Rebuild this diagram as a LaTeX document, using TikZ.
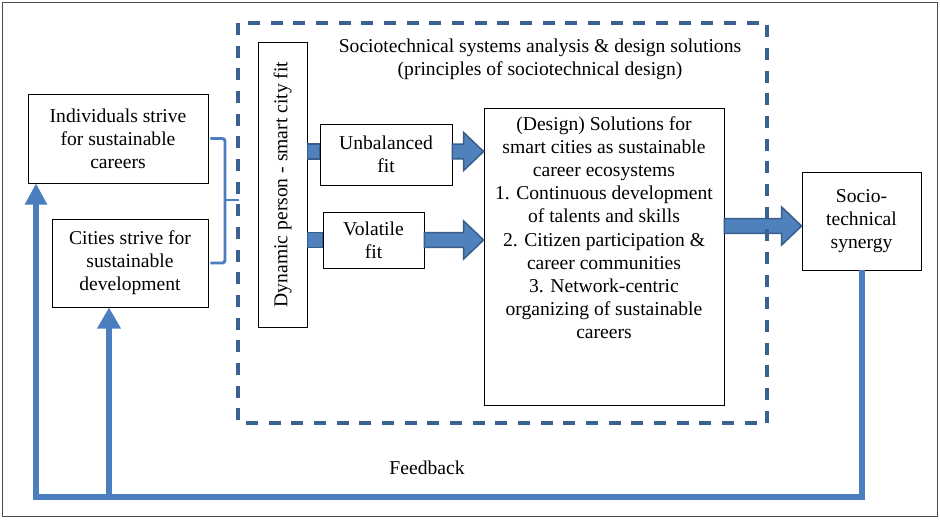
\documentclass[tikz,border=0pt]{standalone}
\usepackage{fontspec}
\setmainfont{Liberation Serif}
\usetikzlibrary{arrows.meta,calc}

\definecolor{arrowfill}{HTML}{4F81BD}
\definecolor{arrowedge}{HTML}{385D8A}
\definecolor{loopblue}{HTML}{4A7EBF}
\definecolor{dashblue}{HTML}{3A6190}

\newlength{\px}
\setlength{\px}{0.75pt}
% block arrow: y taken from #1, x from #1 to #2
\newcommand{\fatarrow}[2]{%
  \filldraw[fatarrow] let \p1=#1, \p2=#2 in
    (\x1,\y1+5.6pt) -- (\x2-15pt,\y1+5.6pt) -- (\x2-15pt,\y1+14.3pt) -- (\x2,\y1)
    -- (\x2-15pt,\y1-14.3pt) -- (\x2-15pt,\y1-5.6pt) -- (\x1,\y1-5.6pt) -- cycle;}

\tikzset{
  box/.style={draw, fill=white, line width=0.6pt, align=center, inner sep=2pt},
  fatarrow/.style={draw=arrowedge, fill=arrowfill, line width=1.1pt},
  feedback/.style={draw=loopblue, line width=4.5pt},
  bracket/.style={draw=loopblue, line width=2.2pt, rounded corners=2pt},
  dashbox/.style={draw=dashblue, line width=2.3pt, dash pattern=on 9pt off 8pt},
}

\begin{document}
\begin{tikzpicture}[x=\px, y=-\px, font=\fontsize{14.7}{17.3}\selectfont]
    \useasboundingbox (0,0) rectangle (940,519);
    \draw[black!70, line width=0.6pt] (2.5,2.5) rectangle (937.5,516.5);

    % Left boxes
    \node[box, minimum width=180\px, minimum height=89\px] (indiv) at (118,138.5)
        {Individuals strive\\for sustainable\\careers};
    \node[box, minimum width=156\px, minimum height=88\px] (cities) at (130,263)
        {Cities strive for\\sustainable\\development};

    % Fit boxes
    \node[box, rotate=90, minimum width=285\px, minimum height=49\px] (dynamic) at (282.5,184.5)
        {Dynamic person - smart city fit};
    \node[box, minimum width=132\px, minimum height=61\px] (unbal) at (386,154.5)
        {Unbalanced\\fit};
    \node[box, minimum width=101\px, minimum height=56\px] (volatile) at (373.5,240)
        {Volatile\\fit};

    % Design solutions
    \node[box, minimum width=240\px, minimum height=297\px] (design) at (604,256.5) {};
    \node[anchor=north, align=center, inner sep=0pt] (designtxt) at ([yshift=-9\px]design.north)
        {(Design) Solutions for\\smart cities as sustainable\\career ecosystems\\
         1. Continuous development\\of talents and skills\\
         2. Citizen participation \&\\career communities\\
         3. Network-centric\\organizing of sustainable\\careers};

    \node[box, minimum width=119\px, minimum height=98\px] (synergy) at (861.5,221)
        {Socio-\\technical\\synergy};

    % Block arrows
    \coordinate (ubar) at ([yshift=3\px]unbal.west);
    \coordinate (vbar) at (volatile.west);
    \draw[fatarrow] ($(dynamic.south |- ubar)+(0,5.6pt)$) rectangle ($(ubar)+(0,-5.6pt)$);
    \draw[fatarrow] ($(dynamic.south |- vbar)+(0,5.6pt)$) rectangle ($(vbar)+(0,-5.6pt)$);
    \fatarrow{([yshift=3\px]unbal.east)}{(design.west)}
    \fatarrow{(volatile.east)}{(design.west)}
    \fatarrow{([yshift=-5\px]synergy.west -| design.east)}{(synergy.west)}

    % Analysis frame
    \draw[dashbox] (238,23) rectangle (767,423);
    \node[align=center] (title) at (540,59)
        {Sociotechnical systems analysis \& design solutions\\(principles of sociotechnical design)};

    % Bracket
    \coordinate (join) at (225,200);
    \draw[bracket] ([xshift=2\px]indiv.east) -| (join) |- ([xshift=2\px]cities.east);
    \draw[bracket] (join) -- ++(14,0);

    % Feedback loop
    \coordinate (fbleft) at (36,497);
    \coordinate (fbmid) at (109,497);
    \draw[feedback, -{Triangle[length=16pt,width=16pt]}] (synergy.south) |- (fbleft) -- (fbleft |- indiv.south);
    \draw[feedback, -{Triangle[length=16pt,width=17pt]}] (fbmid) -- (fbmid |- cities.south);
    \node (fblabel) at (427,468) {Feedback};
\end{tikzpicture}
\end{document}
